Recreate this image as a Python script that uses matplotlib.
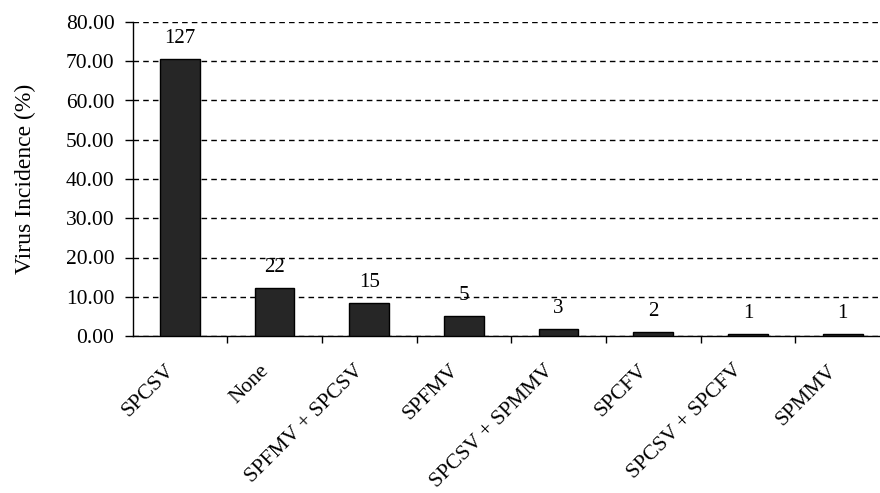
import matplotlib
matplotlib.use("Agg")
import matplotlib.pyplot as plt
import matplotlib.transforms as mtransforms
import numpy as np

# virus combinations and incidence (%) with counts on top
categories = ["SPCSV", "None", "SPFMV + SPCSV", "SPFMV", "SPCSV + SPMMV",
              "SPCFV", "SPCSV + SPCFV", "SPMMV"]
incidence = [70.56, 12.22, 8.33, 5.00, 1.67, 1.11, 0.56, 0.56]
counts = [127, 22, 15, 5, 3, 2, 1, 1]
yticks = [0, 10, 20, 30, 40, 50, 60, 70, 80]

plt.rcParams['font.family'] = ['Liberation Serif', 'DejaVu Serif']

fig = plt.figure(figsize=(8.8, 4.93), dpi=100)
ax = fig.add_axes([132.5 / 880, 1 - 336 / 493, (890 - 132.5) / 880, (336 - 22) / 493])

x = np.arange(len(categories))
bars = ax.bar(x, incidence, width=0.42, color="#262626", edgecolor="black",
              linewidth=1, zorder=3)

for xi, v, c in zip(x, incidence, counts):
    ax.annotate(str(c), (xi, v), xytext=(0, 11.5), textcoords="offset points",
                ha="center", va="baseline", fontsize=15)

ax.set_ylim(0, 80)
ax.set_xlim(-0.5, len(categories) - 0.5)
ax.set_yticks(yticks)
ax.set_yticklabels(["%.2f" % t for t in yticks], fontsize=15.5)
ax.yaxis.grid(True, color="black", linestyle=(0, (4, 3)), linewidth=1, zorder=0)
ax.tick_params(axis="y", length=6, width=1, pad=7, color="black")

# category labels at bar centres, tick marks between bars
ax.set_xticks(x)
ax.set_xticklabels(categories, rotation=45, ha="right", rotation_mode="anchor",
                   fontsize=15.5)
ax.tick_params(axis="x", which="major", length=0, pad=18)
ax.set_xticks(np.arange(len(categories)) + 0.5, minor=True)
ax.tick_params(axis="x", which="minor", length=5, width=1)
shift = mtransforms.ScaledTranslation(-15 / 100, 0, fig.dpi_scale_trans)
for lab in ax.get_xticklabels():
    lab.set_transform(lab.get_transform() + shift)

for s in ["top", "right"]:
    ax.spines[s].set_visible(False)
ax.spines["left"].set_linewidth(1)
ax.spines["bottom"].set_linewidth(1)

ax.set_ylabel("Virus Incidence (%)", fontsize=17, labelpad=21)

fig.savefig("out.png", dpi=100)
